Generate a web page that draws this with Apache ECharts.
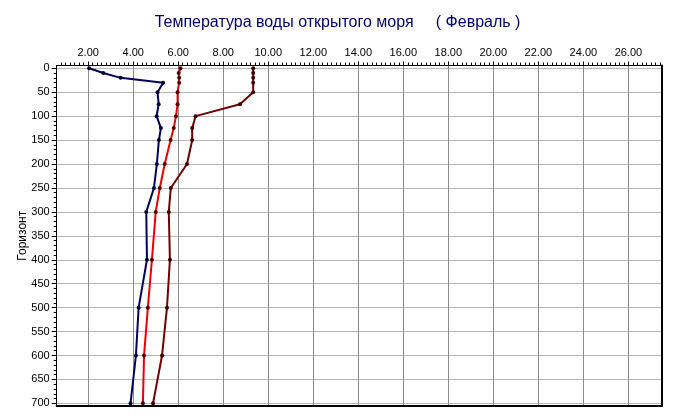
<!DOCTYPE html>
<html>
<head>
<meta charset="utf-8">
<script src="https://cdn.jsdelivr.net/npm/echarts@6/dist/echarts.min.js"></script>
<style>
html,body{margin:0;padding:0;background:#fff;}
#chart{width:675px;height:419px;}
</style>
</head>
<body>
<div id="chart"></div>
<script>
// Depth horizons (m)
var depths = [0, 10, 20, 30, 50, 75, 100, 125, 150, 200, 250, 300, 400, 500, 600, 700];
// Temperatures for three series
var seriesBlue    = [2.04, 2.67, 3.44, 5.33, 5.08, 5.13, 5.04, 5.23, 5.14, 5.05, 4.92, 4.58, 4.61, 4.24, 4.12, 3.88];
var seriesRed     = [6.10, 6.02, 6.04, 6.04, 5.97, 5.97, 5.90, 5.80, 5.66, 5.40, 5.18, 5.00, 4.83, 4.65, 4.48, 4.43];
var seriesDarkRed = [9.33, 9.33, 9.33, 9.33, 9.33, 8.74, 6.77, 6.62, 6.62, 6.39, 5.67, 5.58, 5.63, 5.50, 5.28, 4.88];
// Tick labels
var xTickLabels = [2, 4, 6, 8, 10, 12, 14, 16, 18, 20, 22, 24, 26];
var yTickLabels = [0, 50, 100, 150, 200, 250, 300, 350, 400, 450, 500, 550, 600, 650, 700];
var titleText = 'Температура воды открытого моря     ( Февраль )';
var yAxisTitle = 'Горизонт';

var XMIN = 0.6, XMAX = 27.48, YMIN = -5.8, YMAX = 705.5;

var xMinor = [];
for (var i = 1; i <= 137; i++) { xMinor.push(Math.round(i * 2) / 10); }
xMinor = xMinor.filter(function (v) { return v > XMIN && v < XMAX; });
var yMinor = [];
for (var j = 0; j <= 70; j++) { yMinor.push(j * 10); }

function pairs(vals) {
  return vals.map(function (v, k) { return [v, depths[k]]; });
}

var font = 'Liberation Sans, Arial, sans-serif';
var chart = echarts.init(document.getElementById('chart'), null, {renderer: 'canvas'});
chart.setOption({
  animation: false,
  backgroundColor: '#fff',
  title: {
    text: titleText,
    left: 'center',
    top: 10,
    textStyle: {fontFamily: font, fontSize: 16, fontWeight: 'normal', color: '#00006a'}
  },
  grid: {left: 56.7, top: 65.5, right: 13.3, bottom: 13, show: false},
  xAxis: [
    {
      type: 'value', position: 'top', min: XMIN, max: XMAX,
      axisLine: {show: true, onZero: false, lineStyle: {color: '#000', width: 1}},
      axisTick: {show: true, customValues: xTickLabels, length: 4, lineStyle: {color: '#000'}},
      axisLabel: {customValues: xTickLabels, margin: 7, fontFamily: font, fontSize: 11, color: '#000',
        formatter: function (v) { return v.toFixed(2); }},
      splitLine: {show: true, lineStyle: {color: '#8c8c8c', width: 1}}
    },
    {
      type: 'value', position: 'top', min: XMIN, max: XMAX,
      axisLine: {show: false, onZero: false},
      axisTick: {show: true, customValues: xMinor, length: 3, lineStyle: {color: '#000'}},
      axisLabel: {show: false},
      splitLine: {show: false}
    },
    {
      type: 'value', position: 'bottom', min: XMIN, max: XMAX,
      axisLine: {show: true, onZero: false, lineStyle: {color: '#000', width: 2}},
      axisTick: {show: false}, axisLabel: {show: false}, splitLine: {show: false}
    }
  ],
  yAxis: [
    {
      type: 'value', position: 'left', inverse: true, min: YMIN, max: YMAX,
      name: yAxisTitle, nameLocation: 'middle', nameRotate: 90, nameGap: 28, nameMoveOverlap: false,
      nameTextStyle: {fontFamily: font, fontSize: 12, color: '#000'},
      axisLine: {show: true, onZero: false, lineStyle: {color: '#000', width: 1}},
      axisTick: {show: true, customValues: yTickLabels, length: 5, lineStyle: {color: '#000'}},
      axisLabel: {customValues: yTickLabels, margin: 7, fontFamily: font, fontSize: 11, color: '#000'},
      splitLine: {show: true, lineStyle: {color: '#b8b8b8', width: 1}}
    },
    {
      type: 'value', position: 'left', inverse: true, min: YMIN, max: YMAX,
      axisLine: {show: false, onZero: false},
      axisTick: {show: true, customValues: yMinor, length: 3, lineStyle: {color: '#000'}},
      axisLabel: {show: false}, splitLine: {show: false}
    },
    {
      type: 'value', position: 'right', inverse: true, min: YMIN, max: YMAX,
      axisLine: {show: true, onZero: false, lineStyle: {color: '#000', width: 2}},
      axisTick: {show: false}, axisLabel: {show: false}, splitLine: {show: false}
    }
  ],
  series: [
    {
      type: 'line', xAxisIndex: 0, yAxisIndex: 0, data: pairs(seriesBlue),
      symbol: 'circle', symbolSize: 4, showSymbol: true,
      lineStyle: {color: '#00005e', width: 2}, itemStyle: {color: '#000030'}
    },
    {
      type: 'line', xAxisIndex: 0, yAxisIndex: 0, data: pairs(seriesRed),
      symbol: 'circle', symbolSize: 4, showSymbol: true,
      lineStyle: {color: '#e80000', width: 2}, itemStyle: {color: '#500000'}
    },
    {
      type: 'line', xAxisIndex: 0, yAxisIndex: 0, data: pairs(seriesDarkRed),
      symbol: 'circle', symbolSize: 4, showSymbol: true,
      lineStyle: {color: '#6e0000', width: 2}, itemStyle: {color: '#3a0000'}
    }
  ]
});
</script>
</body>
</html>
